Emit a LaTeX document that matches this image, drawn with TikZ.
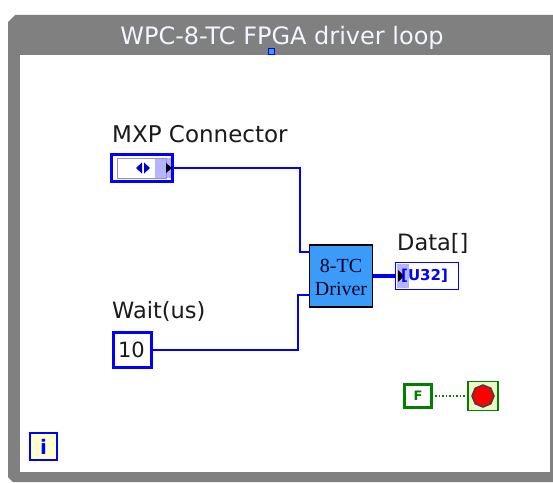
\documentclass[tikz,border=0pt]{standalone}
\usepackage{fontspec}
\setmainfont{DejaVu Sans}
\newfontfamily\drvfont{Liberation Serif}
\usetikzlibrary{shapes.geometric}
\definecolor{framegray}{HTML}{808080}
\definecolor{lvblue}{HTML}{0000FF}
\definecolor{shadeblue}{HTML}{B4B4FF}
\definecolor{drvblue}{HTML}{3A9CF8}
\definecolor{lvgreen}{HTML}{008000}
\definecolor{paleyellow}{HTML}{FFFFCC}
\definecolor{stopfill}{HTML}{EEF6C8}
\definecolor{titlecol}{HTML}{F2F6FF}
\definecolor{lbltext}{HTML}{1A1A1A}
\tikzset{
  lbl/.style={font=\fontsize{23}{25}\selectfont, text=lbltext, inner sep=0, anchor=base west},
  ctrl/.style={draw=lvblue, line width=3, fill=white, inner sep=0, outer sep=0},
  wire/.style={draw=lvblue, line width=1.5},
  thickwire/.style={draw=lvblue, line width=3.5},
  boolwire/.style={draw=lvgreen, line width=1.5, dotted},
}
\begin{document}
\begin{tikzpicture}[x=1pt,y=-1pt]
\useasboundingbox (0,0) rectangle (553,482);
\fill[white] (0,0) rectangle (553,482);
% loop frame
\fill[framegray] (8,22)--(15,15)--(553,15)--(553,482)--(13,482)--(8,477)--cycle;
\draw[white!85!gray, line width=1] (15,14.5)--(553,14.5);
\fill[white] (20,55) rectangle (550,472);
\node[font=\fontsize{24}{26}\selectfont, text=titlecol, inner sep=0, anchor=base] (title) at (282,44) {WPC-8-TC FPGA driver loop};
\node[fill=drvblue, draw=lvblue, line width=0.5, minimum size=6, inner sep=0] (cond) at (271,51) {};

% MXP Connector control
\node[lbl] (mxplbl) at (112,142) {MXP Connector};
\node[ctrl, minimum width=61, minimum height=27] (mxp) at (142,168) {};
\fill[shadeblue] (155,158) rectangle (171,178);
\draw[lvblue!45, line width=1] (117,158) rectangle (166,178);
\fill[lvblue!80!black] (142,162.5)--(142,173.5)--(136,168)--cycle;
\fill[lvblue!80!black] (144,162.5)--(144,173.5)--(150,168)--cycle;
\fill[black] (166,163)--(166,173)--(172,168)--cycle;

% Wait control
\node[lbl, font=\fontsize{22.5}{25}\selectfont] (waitlbl) at (112,318) {Wait(us)};
\node[ctrl, minimum width=38, minimum height=35, font=\fontsize{21}{24}\selectfont, text=lbltext, anchor=west, text width=34, align=left] (wait) at (113,349.5) {\hspace*{3pt}10};

% Driver subVI
\node[draw=black, line width=1.5, fill=drvblue, minimum width=63, minimum height=62, inner sep=0, outer sep=0] (drv) at (341,276) {};
\node[font=\drvfont\fontsize{20}{21}\selectfont, text=black!85!blue, inner sep=0] (drvt1) at (341,266) {8-TC};
\node[font=\drvfont\fontsize{20}{21}\selectfont, text=black!85!blue, inner sep=0] (drvt2) at (341,289) {Driver};

% Data indicator
\node[lbl, font=\fontsize{22.5}{25}\selectfont] (datalbl) at (397,250) {Data[]};
\node[draw=lvblue, line width=1.5, fill=white, minimum width=63, minimum height=27, inner sep=0, outer sep=0] (data) at (427,276) {};
\fill[shadeblue] (397,264) rectangle (409,288);
\fill[black] (398,270)--(398,282)--(404,276)--cycle;
\node[font=\bfseries\fontsize{15}{16}\selectfont, text=lvblue, inner sep=0, anchor=west] (u32) at (401,276) {[U32]};

% wires
\coordinate (m1) at (300,168);
\coordinate (m2) at (300,252);
\coordinate (w1) at (298,350);
\coordinate (w2) at (298,295);
\draw[wire] (mxp.east) -- (m1) -- (m2) -- (drv.west |- m2);
\draw[wire] (wait.east |- w1) -- (w1) -- (w2) -- (drv.west |- w2);
\draw[thickwire] (drv.east) -- (data.west);

% stop condition
\node[draw=lvgreen, line width=3, fill=white, minimum width=27, minimum height=23, inner sep=0, outer sep=0, font=\bfseries\fontsize{13}{14}\selectfont, text=lvgreen] (fconst) at (418,396) {F};
\node[draw=lvgreen, line width=1.5, fill=stopfill, minimum width=30, minimum height=29, inner sep=0, outer sep=0] (stop) at (483,396) {};
\node[regular polygon, regular polygon sides=8, shape border rotate=22.5, draw=black!75, line width=1.5, fill=red, minimum size=22, inner sep=0] (stopoct) at (483,396) {};
\draw[boolwire] (fconst.east) -- (stop.west);

% iteration terminal
\node[draw=lvblue, line width=2.5, fill=paleyellow, minimum width=27, minimum height=27, inner sep=0, outer sep=0, font=\bfseries\fontsize{20}{22}\selectfont, text=lvblue] (iter) at (43.5,446.5) {i};
\end{tikzpicture}
\end{document}
